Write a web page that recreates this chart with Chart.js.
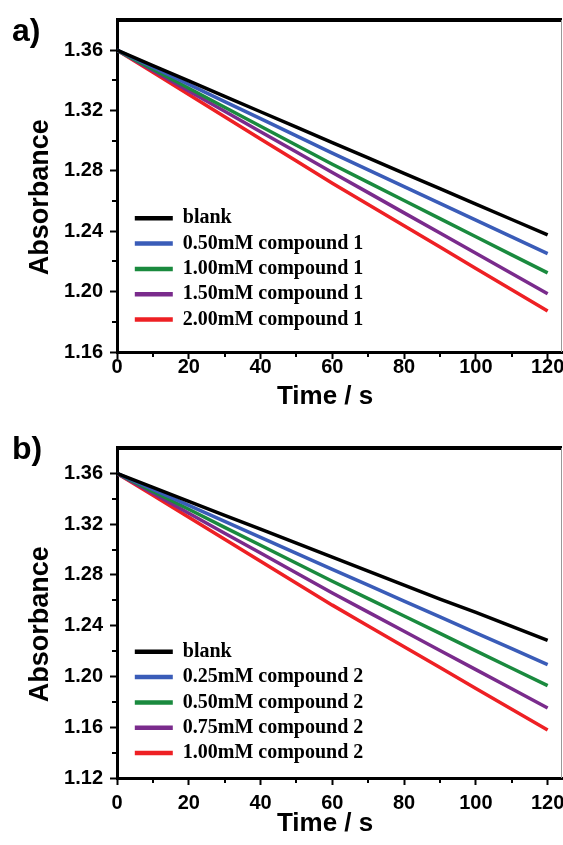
<!DOCTYPE html>
<html>
<head>
<meta charset="utf-8">
<style>
  body { margin: 0; background: #fff; width: 563px; height: 845px; position: relative; overflow: hidden; }
  canvas { position: absolute; left: 0; display: block; }
  #chartA { top: 0; }
  #chartB { top: 420px; }
  .tag { position: absolute; left: 12px; font: bold 32px "Liberation Sans", Arial, sans-serif; line-height: 32px; color: #000; }
</style>
<script src="https://cdn.jsdelivr.net/npm/chart.js@4.4.1/dist/chart.umd.min.js"></script>
</head>
<body>
<canvas id="chartA" width="563" height="420"></canvas>
<canvas id="chartB" width="563" height="425"></canvas>
<div class="tag" style="top:14px">a)</div>
<div class="tag" style="top:432px">b)</div>
<script>
const timeS = [0, 10, 20, 30, 40, 50, 60, 70, 80, 90, 100, 110, 120];

// panel a: compound 1
const namesA = ["blank", "0.50mM compound 1", "1.00mM compound 1", "1.50mM compound 1", "2.00mM compound 1"];
const blankA = [1.360, 1.3498, 1.3396, 1.3294, 1.3192, 1.3090, 1.2988, 1.2886, 1.2784, 1.2682, 1.2580, 1.2478, 1.2376];
const c1_050 = [1.360, 1.3487, 1.3373, 1.3259, 1.3146, 1.3032, 1.2918, 1.2807, 1.2696, 1.2585, 1.2474, 1.2363, 1.2252];
const c1_100 = [1.360, 1.3474, 1.3348, 1.3222, 1.3096, 1.2970, 1.2844, 1.2724, 1.2604, 1.2484, 1.2364, 1.2244, 1.2124];
const c1_150 = [1.360, 1.3465, 1.3330, 1.3195, 1.3060, 1.2925, 1.2790, 1.2656, 1.2522, 1.2388, 1.2254, 1.2120, 1.1986];
const c1_200 = [1.360, 1.3453, 1.3306, 1.3159, 1.3012, 1.2865, 1.2718, 1.2577, 1.2436, 1.2295, 1.2154, 1.2013, 1.1872];

// panel b: compound 2
const namesB = ["blank", "0.25mM compound 2", "0.50mM compound 2", "0.75mM compound 2", "1.00mM compound 2"];
const blankB = [1.360, 1.3490, 1.3380, 1.3270, 1.3160, 1.3050, 1.2940, 1.2830, 1.2720, 1.2610, 1.2505, 1.2395, 1.2285];
const c2_025 = [1.360, 1.3474, 1.3348, 1.3222, 1.3096, 1.2970, 1.2844, 1.2719, 1.2594, 1.2469, 1.2344, 1.2219, 1.2094];
const c2_050 = [1.360, 1.3458, 1.3317, 1.3175, 1.3034, 1.2892, 1.2750, 1.2613, 1.2476, 1.2339, 1.2202, 1.2065, 1.1928];
const c2_075 = [1.360, 1.3443, 1.3286, 1.3129, 1.2972, 1.2815, 1.2658, 1.2507, 1.2356, 1.2205, 1.2054, 1.1903, 1.1752];
const c2_100 = [1.360, 1.3427, 1.3254, 1.3081, 1.2908, 1.2735, 1.2562, 1.2398, 1.2234, 1.2070, 1.1906, 1.1742, 1.1578];

const yRangeA = { min: 1.16, max: 1.38 };
const yRangeB = { min: 1.12, max: 1.38 };

const LINE_COLORS = ["#000000", "#3a5cb8", "#1a8a3e", "#7a2b8c", "#ee2024"];

Chart.defaults.font.family = '"Liberation Sans", Arial, sans-serif';
Chart.defaults.font.weight = "bold";
Chart.defaults.font.size = 20;
Chart.defaults.color = "#000";

const isMajorX = (v) => Math.round(v) % 20 === 0;
const isMinorX = (v) => Math.round(v) % 10 === 0 && !isMajorX(v);
const isMajorY = (v) => Math.round(v * 100) % 4 === 0;

// top border, thin right edge and the short minor ticks
const framePlugin = {
  id: "frame",
  afterDraw(chart) {
    const { ctx, chartArea: a, scales } = chart;
    ctx.save();
    ctx.strokeStyle = "#000";
    ctx.lineWidth = 4;
    ctx.beginPath();
    ctx.moveTo(a.left - 1, a.top);
    ctx.lineTo(a.right, a.top);
    ctx.stroke();
    ctx.strokeStyle = "#999";
    ctx.lineWidth = 1;
    ctx.beginPath();
    ctx.moveTo(a.right - 0.5, a.top);
    ctx.lineTo(a.right - 0.5, a.bottom);
    ctx.stroke();

    ctx.strokeStyle = "#000";
    ctx.lineWidth = 2;
    ctx.beginPath();
    scales.x.ticks.forEach((t) => {
      if (!isMinorX(t.value)) return;
      const px = Math.round(scales.x.getPixelForValue(t.value));
      ctx.moveTo(px, a.bottom);
      ctx.lineTo(px, a.bottom + 5);
    });
    scales.y.ticks.forEach((t) => {
      if (isMajorY(t.value) || t.value >= scales.y.max - 1e-6) return;
      const py = Math.round(scales.y.getPixelForValue(t.value));
      ctx.moveTo(a.left, py);
      ctx.lineTo(a.left - 5, py);
    });
    ctx.stroke();
    ctx.restore();
  },
};

// put the legend inside the plot, lower left
const legendSpot = {
  id: "legendSpot",
  afterLayout(chart, args, opts) {
    const lg = chart.legend;
    if (!lg) return;
    const h = lg.bottom - lg.top;
    const w = lg.right - lg.left;
    lg.left = chart.chartArea.left + opts.dx;
    lg.right = lg.left + w;
    lg.top = opts.top;
    lg.bottom = opts.top + h;
  },
};

function makePanel(canvasId, names, series, yRange, p) {
  const datasets = series.map((vals, i) => ({
    label: names[i],
    data: timeS.map((t, k) => ({ x: t, y: vals[k] })),
    borderColor: LINE_COLORS[i],
    backgroundColor: LINE_COLORS[i],
    borderWidth: 3.5,
    pointRadius: 0,
    pointStyle: "line",
    tension: 0,
  }));

  return new Chart(document.getElementById(canvasId), {
    type: "line",
    data: { datasets },
    plugins: [framePlugin, legendSpot],
    options: {
      responsive: false,
      animation: false,
      devicePixelRatio: 1,
      layout: { padding: { top: p.padTop, right: 1, left: 0, bottom: 0 } },
      plugins: {
        tooltip: { enabled: false },
        legendSpot: { dx: 12.5, top: p.legendTop },
        legend: {
          position: "chartArea",
          align: "start",
          labels: {
            usePointStyle: true,
            pointStyleWidth: 38,
            boxHeight: 4,
            padding: 5.3,
            color: "#000",
            font: { family: '"Liberation Serif", "Times New Roman", serif', weight: "bold", size: 20 },
            generateLabels: (chart) =>
              Chart.defaults.plugins.legend.labels.generateLabels(chart).map((l) => ({ ...l, lineWidth: 4.5 })),
          },
        },
      },
      scales: {
        x: {
          type: "linear",
          min: 0,
          max: 124,
          ticks: {
            stepSize: 10,
            autoSkip: false,
            includeBounds: false,
            maxRotation: 0,
            padding: p.xLabelPad,
            callback: (v) => (isMajorX(v) ? String(v) : ""),
          },
          grid: {
            drawOnChartArea: false,
            tickLength: 7,
            tickWidth: 2,
            tickColor: (c) => (c.tick && isMajorX(c.tick.value) ? "#000" : "rgba(0,0,0,0)"),
          },
          border: { color: "#000", width: 3 },
          title: {
            display: true,
            text: "Time / s    ",
            font: { size: 26, weight: "bold" },
            padding: { top: 0, bottom: p.titlePad },
          },
          afterFit: (s) => {
            s.height = p.xHeight;
            s.paddingLeft = 0;
            s.paddingRight = 0;
          },
        },
        y: {
          min: yRange.min,
          max: yRange.max,
          ticks: {
            stepSize: 0.02,
            autoSkip: false,
            padding: 7,
            callback: (v) => (isMajorY(v) ? v.toFixed(2) : ""),
          },
          grid: {
            drawOnChartArea: false,
            tickLength: 7,
            tickWidth: 2,
            tickColor: (c) => (c.tick && isMajorY(c.tick.value) ? "#000" : "rgba(0,0,0,0)"),
          },
          border: { color: "#000", width: 3 },
          title: {
            display: true,
            text: "Absorbance   ",
            font: { size: 27, weight: "bold" },
            padding: { top: 24, bottom: 0 },
          },
          afterFit: (s) => {
            s.width = 117;
            s.paddingTop = 0;
            s.paddingBottom = 0;
          },
        },
      },
    },
  });
}

makePanel("chartA", namesA, [blankA, c1_050, c1_100, c1_150, c1_200], yRangeA,
  { padTop: 20, xHeight: 68, legendTop: 203, xLabelPad: -4, titlePad: 8 });
makePanel("chartB", namesB, [blankB, c2_025, c2_050, c2_075, c2_100], yRangeB,
  { padTop: 28, xHeight: 67, legendTop: 216.5, xLabelPad: 6, titlePad: 6 });
</script>
</body>
</html>
